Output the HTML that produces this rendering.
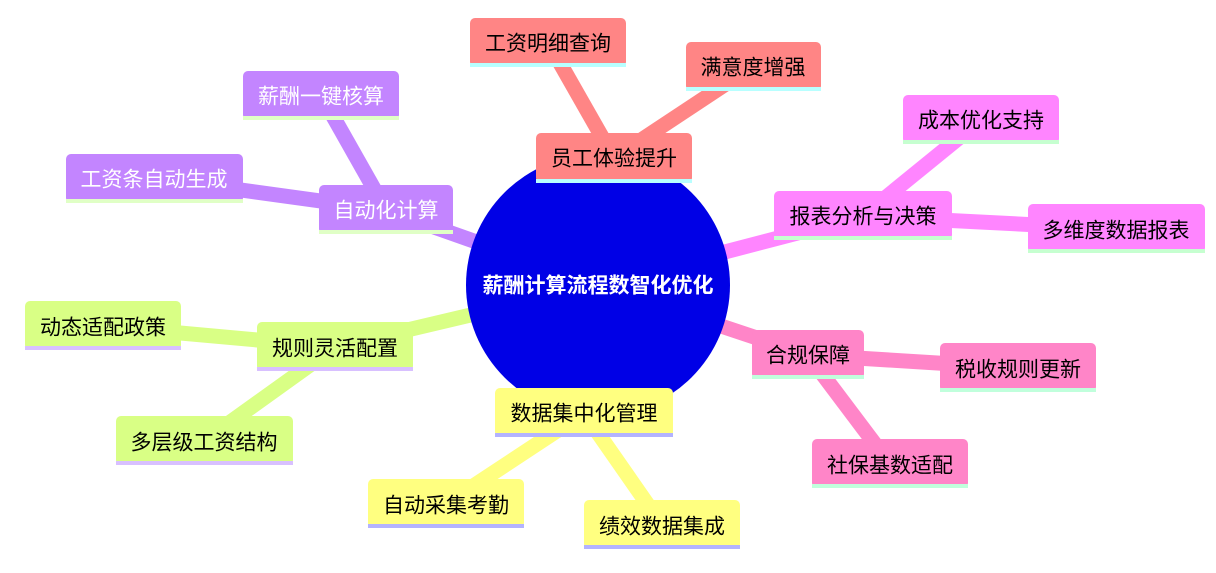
<!DOCTYPE html>
<html><head><meta charset="utf-8"><style>
html,body{margin:0;padding:0;background:#fff;}
svg{display:block}
text{font-family:"Liberation Sans","Noto Sans CJK SC",sans-serif;font-size:21px;dominant-baseline:central;text-anchor:middle}
</style></head><body>
<svg width="1216" height="573" viewBox="0 0 1216 573" xmlns="http://www.w3.org/2000/svg">
<g stroke-linecap="butt">
<g stroke="#ff8585" stroke-width="15"><line x1="548" y1="42" x2="614" y2="158"/><line x1="753" y1="66" x2="614" y2="158"/><line x1="598" y1="285" x2="614" y2="158"/></g>
<g stroke="#c385ff" stroke-width="15"><line x1="321" y1="95" x2="386" y2="210"/><line x1="154" y1="178" x2="386" y2="210"/><line x1="598" y1="285" x2="386" y2="210"/></g>
<g stroke="#ff85ff" stroke-width="15"><line x1="981" y1="120" x2="863" y2="216"/><line x1="1116" y1="229" x2="863" y2="216"/><line x1="598" y1="285" x2="863" y2="216"/></g>
<g stroke="#ff85c8" stroke-width="15"><line x1="1018" y1="368" x2="808" y2="355"/><line x1="890" y1="464" x2="808" y2="355"/><line x1="598" y1="285" x2="808" y2="355"/></g>
<g stroke="#d9ff85" stroke-width="15"><line x1="103" y1="326" x2="335" y2="347"/><line x1="204" y1="441" x2="335" y2="347"/><line x1="598" y1="285" x2="335" y2="347"/></g>
<g stroke="#ffff80" stroke-width="15"><line x1="446" y1="504" x2="584" y2="413"/><line x1="662" y1="525" x2="584" y2="413"/><line x1="598" y1="285" x2="584" y2="413"/></g>
</g>
<ellipse cx="598" cy="285" rx="132" ry="131" fill="#0000e6"/>
<text x="598" y="286" fill="#fff" font-size="20" font-weight="bold">薪酬计算流程数智化优化</text>

<g>
<rect x="536" y="133" width="156" height="50" rx="5" fill="#ff8585"/><rect x="536" y="179" width="156" height="4" fill="#b8ffff"/><text x="614" y="159">员工体验提升</text>
<rect x="470" y="18" width="156" height="49" rx="5" fill="#ff8585"/><rect x="470" y="63" width="156" height="4" fill="#b8ffff"/><text x="548" y="44">工资明细查询</text>
<rect x="686" y="42" width="135" height="49" rx="5" fill="#ff8585"/><rect x="686" y="87" width="135" height="4" fill="#b8ffff"/><text x="753" y="68">满意度增强</text>
<rect x="319" y="185" width="134" height="49" rx="5" fill="#c385ff"/><rect x="319" y="230" width="134" height="4" fill="#e0ffc6"/><text x="386" y="211" fill="#fff">自动化计算</text>
<rect x="243" y="71" width="156" height="49" rx="5" fill="#c385ff"/><rect x="243" y="116" width="156" height="4" fill="#e0ffc6"/><text x="321" y="97" fill="#fff">薪酬一键核算</text>
<rect x="66" y="154" width="177" height="49" rx="5" fill="#c385ff"/><rect x="66" y="199" width="177" height="4" fill="#e0ffc6"/><text x="154" y="180" fill="#fff">工资条自动生成</text>
<rect x="774" y="191" width="178" height="49" rx="5" fill="#ff85ff"/><rect x="774" y="236" width="178" height="4" fill="#c6ffd0"/><text x="863" y="217">报表分析与决策</text>
<rect x="903" y="95" width="156" height="49" rx="5" fill="#ff85ff"/><rect x="903" y="140" width="156" height="4" fill="#c6ffd0"/><text x="981" y="121">成本优化支持</text>
<rect x="1028" y="204" width="177" height="49" rx="5" fill="#ff85ff"/><rect x="1028" y="249" width="177" height="4" fill="#c6ffd0"/><text x="1116" y="231">多维度数据报表</text>
<rect x="752" y="330" width="112" height="49" rx="5" fill="#ff85c8"/><rect x="752" y="375" width="112" height="4" fill="#c0ffdc"/><text x="808" y="356">合规保障</text>
<rect x="940" y="343" width="156" height="49" rx="5" fill="#ff85c8"/><rect x="940" y="388" width="156" height="4" fill="#c0ffdc"/><text x="1018" y="370">税收规则更新</text>
<rect x="812" y="439" width="156" height="49" rx="5" fill="#ff85c8"/><rect x="812" y="484" width="156" height="4" fill="#c0ffdc"/><text x="890" y="466">社保基数适配</text>
<rect x="257" y="322" width="156" height="49" rx="5" fill="#d9ff85"/><rect x="257" y="367" width="156" height="4" fill="#d8c0ff"/><text x="335" y="349">规则灵活配置</text>
<rect x="25" y="301" width="156" height="49" rx="5" fill="#d9ff85"/><rect x="25" y="346" width="156" height="4" fill="#d8c0ff"/><text x="103" y="328">动态适配政策</text>
<rect x="116" y="416" width="177" height="49" rx="5" fill="#d9ff85"/><rect x="116" y="461" width="177" height="4" fill="#d8c0ff"/><text x="204" y="443">多层级工资结构</text>
<rect x="495" y="388" width="178" height="49" rx="5" fill="#ffff80"/><rect x="495" y="433" width="178" height="4" fill="#b3b3ff"/><text x="584" y="414">数据集中化管理</text>
<rect x="368" y="479" width="156" height="49" rx="5" fill="#ffff80"/><rect x="368" y="524" width="156" height="4" fill="#b3b3ff"/><text x="446" y="506">自动采集考勤</text>
<rect x="584" y="500" width="156" height="49" rx="5" fill="#ffff80"/><rect x="584" y="545" width="156" height="4" fill="#b3b3ff"/><text x="662" y="527">绩效数据集成</text>
</g>
</svg>
</body></html>
